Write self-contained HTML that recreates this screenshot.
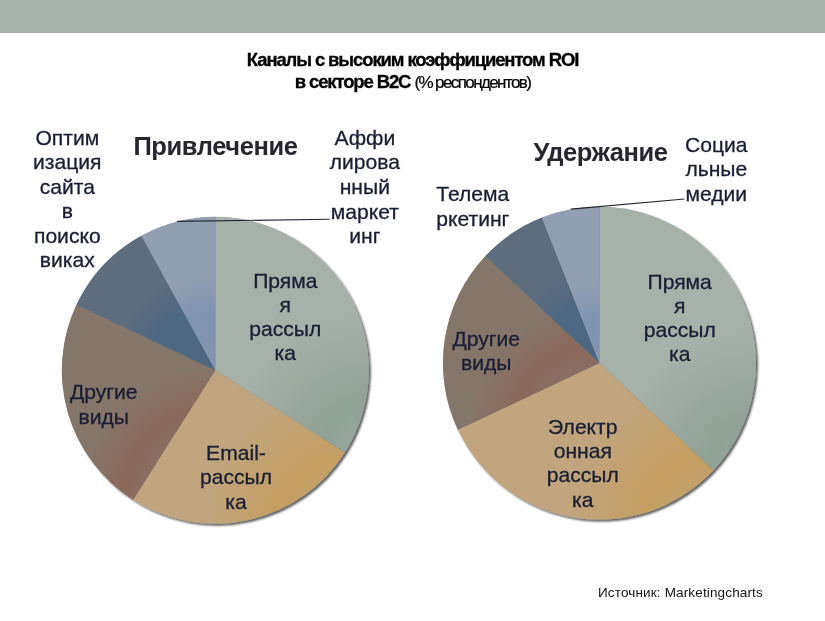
<!DOCTYPE html>
<html lang="ru"><head><meta charset="utf-8"><title>Каналы с высоким коэффициентом ROI</title>
<style>
html,body{margin:0;padding:0;background:#fff;}
body{width:825px;height:621px;overflow:hidden;position:relative;font-family:"Liberation Sans",sans-serif;}
.bar{position:absolute;left:0;top:0;width:100%;height:33px;background:#A5B1A9;}
.title{position:absolute;left:0;top:49.4px;width:825px;text-align:center;font-size:18.5px;line-height:22px;color:#000;font-weight:bold;letter-spacing:-1.12px;-webkit-text-stroke:0.3px #000;}
.title span{font-weight:normal;font-size:17px;letter-spacing:-1.6px;-webkit-text-stroke:0.2px #000;}
svg{position:absolute;left:0;top:0;}
svg text{font-family:"Liberation Sans",sans-serif;}
.lb{font-size:21.1px;fill:#1A1E32;stroke:#1A1E32;stroke-width:0.3px;}
.hd{font-size:25.5px;font-weight:bold;fill:#27262F;letter-spacing:-0.4px;}
.src{font-size:13.5px;fill:#151515;letter-spacing:0.15px;}
</style></head><body>
<div class="bar"></div>
<div class="title">Каналы с высоким коэффициентом ROI<br>в секторе B2C <span>(% респондентов)</span></div>
<svg width="825" height="621" viewBox="0 0 825 621">
<defs>
<radialGradient id="a0" gradientUnits="userSpaceOnUse" cx="368.8" cy="452.4" r="155.0"><stop offset="0" stop-color="#9CAAA1"/><stop offset="0.032" stop-color="#9CAAA1"/><stop offset="0.290" stop-color="#90A196"/><stop offset="0.903" stop-color="#A5B1A9"/><stop offset="1" stop-color="#A5B1A9"/></radialGradient>
<radialGradient id="a1" gradientUnits="userSpaceOnUse" cx="344.9" cy="523.7" r="175.0"><stop offset="0" stop-color="#C1A272"/><stop offset="0.114" stop-color="#C1A272"/><stop offset="0.371" stop-color="#C59F62"/><stop offset="0.829" stop-color="#C0A57E"/><stop offset="1" stop-color="#C0A57E"/></radialGradient>
<radialGradient id="a2" gradientUnits="userSpaceOnUse" cx="215.3" cy="499.8" r="202.0"><stop offset="0" stop-color="#867268"/><stop offset="0.233" stop-color="#867268"/><stop offset="0.455" stop-color="#8B6A5B"/><stop offset="0.693" stop-color="#85766B"/><stop offset="1" stop-color="#85766B"/></radialGradient>
<radialGradient id="a3" gradientUnits="userSpaceOnUse" cx="215.3" cy="370.2" r="172.0"><stop offset="0" stop-color="#4F6680"/><stop offset="0.128" stop-color="#4F6680"/><stop offset="0.360" stop-color="#4D6783"/><stop offset="0.605" stop-color="#5D6D7E"/><stop offset="1" stop-color="#5D6D7E"/></radialGradient>
<radialGradient id="a4" gradientUnits="userSpaceOnUse" cx="215.3" cy="370.2" r="168.0"><stop offset="0" stop-color="#8394AE"/><stop offset="0.131" stop-color="#8394AE"/><stop offset="0.345" stop-color="#7F94B2"/><stop offset="0.560" stop-color="#929FB2"/><stop offset="1" stop-color="#929FB2"/></radialGradient><radialGradient id="b0" gradientUnits="userSpaceOnUse" cx="755.9" cy="470.2" r="155.0"><stop offset="0" stop-color="#9CAAA1"/><stop offset="0.032" stop-color="#9CAAA1"/><stop offset="0.290" stop-color="#90A196"/><stop offset="0.903" stop-color="#A5B1A9"/><stop offset="1" stop-color="#A5B1A9"/></radialGradient>
<radialGradient id="b1" gradientUnits="userSpaceOnUse" cx="713.5" cy="519.6" r="175.0"><stop offset="0" stop-color="#C1A272"/><stop offset="0.114" stop-color="#C1A272"/><stop offset="0.371" stop-color="#C59F62"/><stop offset="0.829" stop-color="#C0A57E"/><stop offset="1" stop-color="#C0A57E"/></radialGradient>
<radialGradient id="b2" gradientUnits="userSpaceOnUse" cx="599.4" cy="429.7" r="196.0"><stop offset="0" stop-color="#867268"/><stop offset="0.209" stop-color="#867268"/><stop offset="0.439" stop-color="#8B6A5B"/><stop offset="0.684" stop-color="#85766B"/><stop offset="1" stop-color="#85766B"/></radialGradient>
<radialGradient id="b3" gradientUnits="userSpaceOnUse" cx="599.4" cy="363.1" r="165.0"><stop offset="0" stop-color="#4F6680"/><stop offset="0.091" stop-color="#4F6680"/><stop offset="0.333" stop-color="#4D6783"/><stop offset="0.588" stop-color="#5D6D7E"/><stop offset="1" stop-color="#5D6D7E"/></radialGradient>
<radialGradient id="b4" gradientUnits="userSpaceOnUse" cx="599.4" cy="363.1" r="154.0"><stop offset="0" stop-color="#8394AE"/><stop offset="0.052" stop-color="#8394AE"/><stop offset="0.286" stop-color="#7F94B2"/><stop offset="0.519" stop-color="#929FB2"/><stop offset="1" stop-color="#929FB2"/></radialGradient>
<filter id="sh" x="-10%" y="-10%" width="120%" height="120%"><feGaussianBlur in="SourceAlpha" stdDeviation="0.9"/><feOffset dx="2" dy="2"/><feComponentTransfer><feFuncA type="linear" slope="0.62"/></feComponentTransfer><feMerge><feMergeNode/><feMergeNode in="SourceGraphic"/></feMerge></filter>
</defs>
<g filter="url(#sh)">
<circle cx="215.3" cy="370.2" r="153.1" fill="#6F7678"/>
<path d="M215.3 370.2L215.30 216.70A153.5 153.5 0 0 1 344.90 452.45Z" fill="url(#a0)"/>
<path d="M215.3 370.2L344.90 452.45A153.5 153.5 0 0 1 133.05 499.80Z" fill="url(#a1)"/>
<path d="M215.3 370.2L133.05 499.80A153.5 153.5 0 0 1 76.41 304.84Z" fill="url(#a2)"/>
<path d="M215.3 370.2L76.41 304.84A153.5 153.5 0 0 1 141.35 235.69Z" fill="url(#a3)"/>
<path d="M215.3 370.2L141.35 235.69A153.5 153.5 0 0 1 215.30 216.70Z" fill="url(#a4)"/>
</g>
<g filter="url(#sh)">
<circle cx="599.4" cy="363.1" r="156.1" fill="#6F7678"/>
<path d="M599.4 363.1L599.40 206.60A156.5 156.5 0 0 1 713.48 470.23Z" fill="url(#b0)"/>
<path d="M599.4 363.1L713.48 470.23A156.5 156.5 0 0 1 457.79 429.73Z" fill="url(#b1)"/>
<path d="M599.4 363.1L457.79 429.73A156.5 156.5 0 0 1 485.32 255.97Z" fill="url(#b2)"/>
<path d="M599.4 363.1L485.32 255.97A156.5 156.5 0 0 1 541.79 217.59Z" fill="url(#b3)"/>
<path d="M599.4 363.1L541.79 217.59A156.5 156.5 0 0 1 599.40 206.60Z" fill="url(#b4)"/>
</g>
<line x1="176.8" y1="221.4" x2="329.5" y2="219.3" stroke="#25252F" stroke-width="1.1"/>
<line x1="570.8" y1="209.1" x2="684.5" y2="199" stroke="#25252F" stroke-width="1.1"/>
<text class="hd" x="215.5" y="154.5" text-anchor="middle">Привлечение</text>
<text class="hd" x="600.5" y="161" text-anchor="middle">Удержание</text>
<text class="lb" text-anchor="middle"><tspan x="67.3" y="144.6">Оптим</tspan><tspan x="67.3" y="169.1">изация</tspan><tspan x="67.3" y="193.6">сайта</tspan><tspan x="67.3" y="218.1">в</tspan><tspan x="67.3" y="242.6">поиско</tspan><tspan x="67.3" y="267.1">виках</tspan></text>
<text class="lb" text-anchor="middle"><tspan x="364.8" y="144.8">Аффи</tspan><tspan x="364.8" y="169.4">лирова</tspan><tspan x="364.8" y="193.9">нный</tspan><tspan x="364.8" y="218.5">маркет</tspan><tspan x="364.8" y="243.0">инг</tspan></text>
<text class="lb" text-anchor="middle"><tspan x="285.3" y="287.8">Пряма</tspan><tspan x="285.3" y="312.0">я</tspan><tspan x="285.3" y="336.2">рассыл</tspan><tspan x="285.3" y="360.4">ка</tspan></text>
<text class="lb" text-anchor="middle"><tspan x="236" y="459.8">Email-</tspan><tspan x="236" y="484.3">рассыл</tspan><tspan x="236" y="508.8">ка</tspan></text>
<text class="lb" text-anchor="middle"><tspan x="103.8" y="399.4">Другие</tspan><tspan x="103.8" y="423.5">виды</tspan></text>
<text class="lb" text-anchor="middle"><tspan x="716.3" y="151.7">Социа</tspan><tspan x="716.3" y="176.2">льные</tspan><tspan x="716.3" y="200.7">медии</tspan></text>
<text class="lb" text-anchor="middle"><tspan x="472.8" y="201.2">Телема</tspan><tspan x="472.8" y="225.7">ркетинг</tspan></text>
<text class="lb" text-anchor="middle"><tspan x="679.7" y="288.5">Пряма</tspan><tspan x="679.7" y="312.8">я</tspan><tspan x="679.7" y="337.1">рассыл</tspan><tspan x="679.7" y="361.4">ка</tspan></text>
<text class="lb" text-anchor="middle"><tspan x="486.3" y="345.5">Другие</tspan><tspan x="486.3" y="369.5">виды</tspan></text>
<text class="lb" text-anchor="middle"><tspan x="582.8" y="433.6">Электр</tspan><tspan x="582.8" y="457.9">онная</tspan><tspan x="582.8" y="482.2">рассыл</tspan><tspan x="582.8" y="506.5">ка</tspan></text>
<text class="src" x="598" y="596.8">Источник: Marketingcharts</text>
</svg>
</body></html>
